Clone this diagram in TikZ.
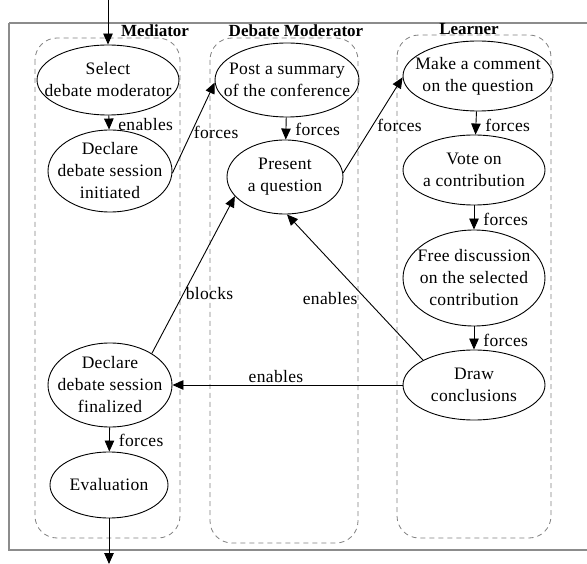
\documentclass[tikz,border=0pt]{standalone}
\usepackage{fontspec}
\setmainfont{Liberation Serif}
\newfontfamily\tnr{Liberation Serif}[LetterSpace=2]
\usetikzlibrary{shapes.geometric,arrows.meta}
\begin{document}
\begin{tikzpicture}[x=1pt,y=-1pt,
  act/.style={draw,line width=0.9pt,ellipse,inner xsep=-22pt,inner ysep=-14pt,align=center,
    font=\tnr\fontsize{17.5}{22}\selectfont},
  lane/.style={draw=black!50,dashed,dash pattern=on 5pt off 4pt,line width=0.8pt,rounded corners=22pt},
  title/.style={font=\fontsize{17}{20}\selectfont\bfseries,inner sep=0pt},
  arr/.style={line width=0.9pt,-{Triangle[length=11pt,width=9.5pt]}},
  lbl/.style={font=\tnr\fontsize{17.5}{20}\selectfont,inner sep=2pt}]
\useasboundingbox (0,0) rectangle (587,564);
\draw[black!45,line width=1.2pt] (9,23) -- (600,23) (9,23) -- (9,550) -- (600,550);
% lanes
\draw[lane] (35,38) rectangle (180,538);
\draw[lane] (210,38) rectangle (358,543);
\draw[lane] (397,35) rectangle (551,538);
\node[title] (tmed) at (155,31) {Mediator};
\node[title] (tdm) at (296,31) {Debate Moderator};
\node[title] (tlea) at (469,29) {Learner};
% nodes
\node[act,minimum width=142pt,minimum height=70pt] (sel) at (108,80) {Select\\debate moderator};
\node[act,minimum width=124pt,minimum height=82pt] (dinit) at (110,171) {Declare\\debate session\\initiated};
\node[act,minimum width=144pt,minimum height=74pt] (post) at (287,80) {Post a summary\\of the conference};
\node[act,minimum width=116pt,minimum height=74pt] (pres) at (285,177) {Present\\a question};
\node[act,minimum width=150pt,minimum height=70pt] (make) at (478,76) {Make a comment\\on the question};
\node[act,minimum width=142pt,minimum height=70pt] (vote) at (474,170) {Vote on\\a contribution};
\node[act,minimum width=142pt,minimum height=96pt] (free) at (474,278) {Free discussion\\on the selected\\contribution};
\node[act,minimum width=142pt,minimum height=70pt] (drawc) at (474,385) {Draw\\conclusions};
\node[act,minimum width=124pt,minimum height=84pt] (dfin) at (110,385) {Declare\\debate session\\finalized};
\node[act,minimum width=118pt,minimum height=66pt] (eval) at (109,485) {Evaluation};
\coordinate (start) at (108,0);
\coordinate (finish) at (109,564);
% edges
\draw[arr] (start) -- (sel.north);
\draw[arr] (sel) -- node[lbl,right,xshift=7pt,yshift=-2pt]{enables} (dinit);
\draw[arr] (dinit.-2) -- node[lbl,right,pos=0.45]{forces} (post.182);
\draw[arr] (post) -- node[lbl,right,xshift=7pt,yshift=-1pt]{forces} (pres);
\draw[arr] (pres.4) -- node[lbl,right,pos=0.5,xshift=2pt]{forces} (make.181);
\draw[arr] (make) -- node[lbl,right,xshift=7pt,yshift=-2pt]{forces} (vote);
\draw[arr] (vote) -- node[lbl,right,xshift=7pt,yshift=-2pt]{forces} (free);
\draw[arr] (free) -- node[lbl,right,xshift=7pt,yshift=-2pt]{forces} (drawc);
\draw[arr] (drawc.154) -- node[lbl,left,pos=0.42,xshift=-6pt]{enables} (pres.-87);
\draw[arr] (drawc.west) -- node[lbl,above,pos=0.55]{enables} (dfin.east);
\draw[arr] (dfin.37) -- node[lbl,right,pos=0.38]{blocks} (pres.201);
\draw[arr] (dfin) -- node[lbl,right,xshift=7pt,yshift=-1pt]{forces} (eval);
\draw[arr] (eval.south) -- (finish);
\end{tikzpicture}
\end{document}
